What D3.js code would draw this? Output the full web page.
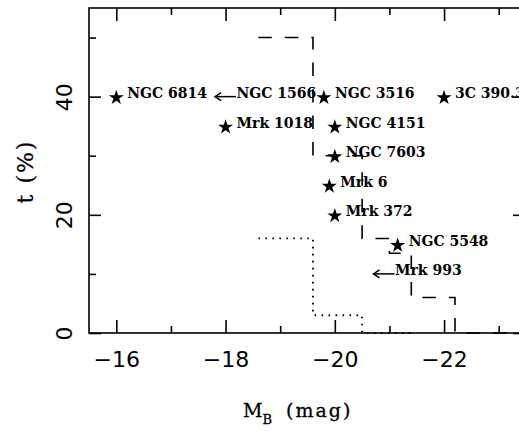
<!DOCTYPE html>
<html>
<head>
<meta charset="utf-8">
<script src="https://cdn.jsdelivr.net/npm/d3@7"></script>
<style>
  html, body { margin: 0; padding: 0; background: #fff; }
  svg { display: block; }
</style>
</head>
<body>
<svg id="chart" width="519" height="431"></svg>
<script>
// ---- data ----
const galaxies = ["NGC 6814", "NGC 3516", "3C 390.3", "Mrk 1018", "NGC 4151", "NGC 7603", "Mrk 6", "Mrk 372", "NGC 5548"];
const galaxyMB = [-16.0, -19.8, -22.0, -18.0, -20.0, -20.0, -19.9, -20.0, -21.15];
const galaxyT  = [40, 40, 40, 35, 35, 30, 25, 20, 15];

const limitNames = ["NGC 1566", "Mrk 993"];
const limitMB    = [-18.0, -20.9];
const limitT     = [40, 10];

const dashedEdges   = [-18.6, -19.6, -20.5, -21.0, -21.4, -22.2, -23.5];
const dashedHeights = [50, 30, 16, 13.5, 6, 0, 0];
const dottedEdges   = [-18.6, -19.6, -20.5, -21.4];
const dottedHeights = [16, 3, 0, 0];

const xMajorTicks = [-16, -18, -20, -22];
const xMinorTicks = [-17, -19, -21, -23];
const yMajorTicks = [0, 20, 40];
const yMinorTicks = [10, 30, 50];

// ---- layout ----
const L = 89, R = 526, T = 8, B = 333;
const svg = d3.select("#chart");
const x = d3.scaleLinear().domain([-15.5, -23.5]).range([L, R]);
const y = d3.scaleLinear().domain([0, 55]).range([B, T]);

const axisStyle = g => {
  g.select(".domain").remove();
  g.selectAll(".tick line").attr("stroke", "#000").attr("stroke-width", 1.6);
};

// frame
svg.append("rect").attr("x", L).attr("y", T).attr("width", R - L).attr("height", B - T)
  .attr("fill", "none").attr("stroke", "#000").attr("stroke-width", 1.6);

// bottom axis
svg.append("g").attr("transform", `translate(0,${B})`)
  .call(d3.axisBottom(x).tickValues(xMinorTicks).tickSize(-7).tickFormat(""))
  .call(axisStyle);
const bx = svg.append("g").attr("transform", `translate(0,${B})`)
  .call(d3.axisBottom(x).tickValues(xMajorTicks).tickSize(-13).tickPadding(18.5).tickFormat(d3.format("d")))
  .call(axisStyle);
bx.selectAll(".tick text").attr("font-family", "DejaVu Sans").attr("font-size", 22).attr("fill", "#000");

// top axis
svg.append("g").attr("transform", `translate(0,${T})`)
  .call(d3.axisTop(x).tickValues(xMinorTicks).tickSize(-7).tickFormat("")).call(axisStyle);
svg.append("g").attr("transform", `translate(0,${T})`)
  .call(d3.axisTop(x).tickValues(xMajorTicks).tickSize(-13).tickFormat("")).call(axisStyle);

// left axis
svg.append("g").attr("transform", `translate(${L},0)`)
  .call(d3.axisLeft(y).tickValues(yMinorTicks).tickSize(-7).tickFormat("")).call(axisStyle);
const ly = svg.append("g").attr("transform", `translate(${L},0)`)
  .call(d3.axisLeft(y).tickValues(yMajorTicks).tickSize(-12).tickFormat(d3.format("d")))
  .call(axisStyle);
ly.selectAll(".tick text")
  .attr("x", null).attr("dy", null)
  .attr("transform", "translate(-17,0) rotate(-90)")
  .attr("text-anchor", "middle")
  .attr("font-family", "DejaVu Sans").attr("font-size", 22).attr("fill", "#000");

// right axis
svg.append("g").attr("transform", `translate(${R},0)`)
  .call(d3.axisRight(y).tickValues(yMinorTicks).tickSize(-7).tickFormat("")).call(axisStyle);
svg.append("g").attr("transform", `translate(${R},0)`)
  .call(d3.axisRight(y).tickValues(yMajorTicks).tickSize(-13).tickFormat("")).call(axisStyle);

// histograms
const step = d3.line().x(d => x(d[0])).y(d => y(d[1])).curve(d3.curveStepAfter);
svg.append("path").datum(d3.zip(dashedEdges, dashedHeights))
  .attr("d", step).attr("fill", "none").attr("stroke", "#000")
  .attr("stroke-width", 1.6).attr("stroke-dasharray", "13.5,13");
svg.append("path").datum(d3.zip(dottedEdges, dottedHeights))
  .attr("d", step).attr("fill", "none").attr("stroke", "#000")
  .attr("stroke-width", 1.8).attr("stroke-dasharray", "1.6,5.4");

// stars
const star = d3.symbol().type(d3.symbolStar).size(70);
const pts = d3.zip(galaxies, galaxyMB, galaxyT);
svg.append("g").selectAll("path").data(pts).join("path")
  .attr("d", star)
  .attr("transform", d => `translate(${x(d[1])},${y(d[2]) + 1})`)
  .attr("fill", "#000");

// upper-limit arrows
const lims = d3.zip(limitNames, limitMB, limitT);
const ag = svg.append("g").attr("stroke", "#000").attr("stroke-width", 1.5).attr("fill", "none");
lims.forEach(d => {
  const cx = x(d[1]), cy = y(d[2]);
  ag.append("line").attr("x1", cx - 10.5).attr("x2", cx + 10.5).attr("y1", cy).attr("y2", cy);
  ag.append("path").attr("d", `M${cx - 4.5},${cy - 4} L${cx - 10.5},${cy} L${cx - 4.5},${cy + 4}`);
});

// labels
const labelData = pts.concat(lims);
svg.append("g").selectAll("text").data(labelData).join("text")
  .attr("x", d => x(d[1]) + 11)
  .attr("y", d => y(d[2]) + 1.5)
  .attr("font-family", "DejaVu Serif").attr("font-weight", "bold")
  .attr("font-size", 14).attr("fill", "#000")
  .text(d => d[0]);

// axis titles
const xt = svg.append("text").attr("x", 243).attr("y", 417)
  .attr("font-family", "DejaVu Serif").attr("fill", "#000")
  .attr("stroke", "#000").attr("stroke-width", 0.3);
xt.append("tspan").attr("font-size", 19).text("M");
xt.append("tspan").attr("font-size", 13).attr("dy", 7).text("B");
xt.append("tspan").attr("font-size", 19).attr("dy", -7).attr("dx", 14).attr("letter-spacing", 2).text("(mag)");

svg.append("text")
  .attr("transform", "translate(33,171.5) rotate(-90)")
  .attr("text-anchor", "middle")
  .attr("font-family", "DejaVu Serif").attr("font-size", 22).attr("letter-spacing", 2)
  .attr("fill", "#000").attr("stroke", "#000").attr("stroke-width", 0.3)
  .text("t (%)");
</script>
</body>
</html>
